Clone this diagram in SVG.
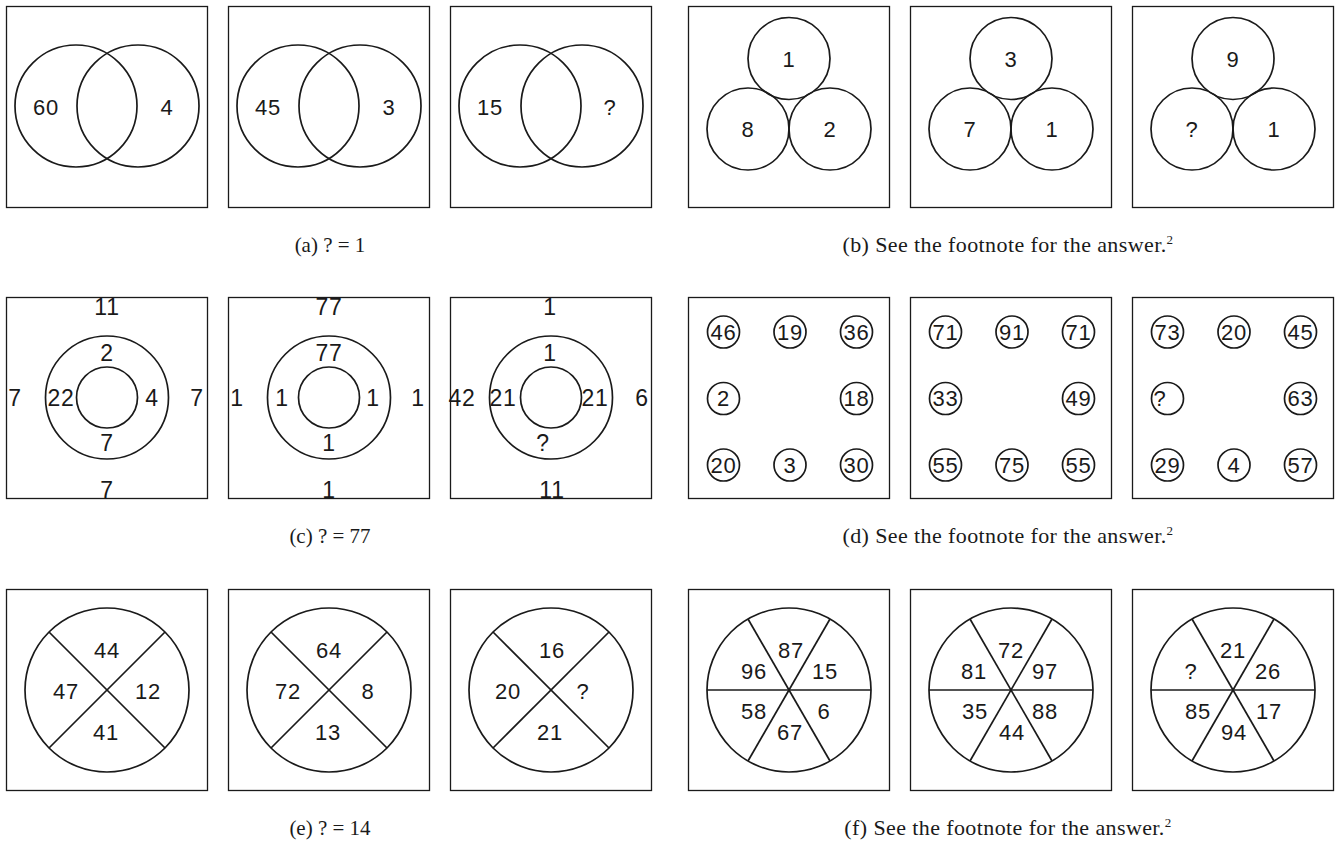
<svg xmlns="http://www.w3.org/2000/svg" width="1336" height="844" viewBox="0 0 1336 844">
<style>
.box{fill:#fff;stroke:#1a1a1a;stroke-width:1.3}
.c{fill:none;stroke:#1a1a1a;stroke-width:1.7}
.l{stroke:#1a1a1a;stroke-width:1.7}
.t{font-family:"Liberation Sans",Arial,sans-serif;font-size:22px;fill:#1a1a1a;text-anchor:middle;dominant-baseline:central;letter-spacing:0.8px}
.tc{font-size:23px}
.cap{font-family:"Liberation Serif","Times New Roman",serif;font-size:21px;fill:#1a1a1a;text-anchor:middle}
.capl{font-size:22px;letter-spacing:0.4px}
.sup{font-size:13px}
</style>
<rect width="1336" height="844" fill="#fff"/>

<!-- (a) -->
<g id="a1">
<rect class="box" x="6.5" y="6.5" width="201" height="201"/>
<circle class="c" cx="76" cy="106" r="61"/><circle class="c" cx="138" cy="106" r="61"/>
<text class="t" x="46" y="107">60</text><text class="t" x="167" y="107">4</text>
</g>
<g id="a2">
<rect class="box" x="228.5" y="6.5" width="201" height="201"/>
<circle class="c" cx="298" cy="106" r="61"/><circle class="c" cx="360" cy="106" r="61"/>
<text class="t" x="268" y="107">45</text><text class="t" x="389" y="107">3</text>
</g>
<g id="a3">
<rect class="box" x="450.5" y="6.5" width="201" height="201"/>
<circle class="c" cx="520" cy="106" r="61"/><circle class="c" cx="582" cy="106" r="61"/>
<text class="t" x="490" y="107">15</text><text class="t" x="610" y="107">?</text>
</g>
<text id="cap-a" class="cap" x="330" y="252">(a) ? = 1</text>

<!-- (b) -->
<g id="b1">
<rect class="box" x="688.5" y="6.5" width="201" height="201"/>
<circle class="c" cx="789" cy="58.5" r="41"/><circle class="c" cx="748" cy="129" r="41"/><circle class="c" cx="830" cy="129" r="41"/>
<text class="t" x="789" y="59">1</text><text class="t" x="748" y="129">8</text><text class="t" x="830" y="129">2</text>
</g>
<g id="b2">
<rect class="box" x="910.5" y="6.5" width="201" height="201"/>
<circle class="c" cx="1011" cy="58.5" r="41"/><circle class="c" cx="970" cy="129" r="41"/><circle class="c" cx="1052" cy="129" r="41"/>
<text class="t" x="1011" y="59">3</text><text class="t" x="970" y="129">7</text><text class="t" x="1052" y="129">1</text>
</g>
<g id="b3">
<rect class="box" x="1132.5" y="6.5" width="201" height="201"/>
<circle class="c" cx="1233" cy="58.5" r="41"/><circle class="c" cx="1192" cy="129" r="41"/><circle class="c" cx="1274" cy="129" r="41"/>
<text class="t" x="1233" y="59">9</text><text class="t" x="1192" y="129">?</text><text class="t" x="1274" y="129">1</text>
</g>
<text id="cap-b" class="cap capl" x="1008" y="252">(b) See the footnote for the answer.<tspan class="sup" dy="-8">2</tspan></text>

<!-- (c) -->
<g id="c1">
<rect class="box" x="6.5" y="297.5" width="201" height="201"/>
<circle class="c" cx="107" cy="397.5" r="61.5"/><circle class="c" cx="107" cy="397.5" r="30.5"/>
<text class="t tc" x="107" y="307">11</text><text class="t tc" x="107" y="353">2</text>
<text class="t tc" x="15" y="398">7</text><text class="t tc" x="61" y="398">22</text>
<text class="t tc" x="152" y="398">4</text><text class="t tc" x="197" y="398">7</text>
<text class="t tc" x="107" y="443">7</text><text class="t tc" x="107" y="490">7</text>
</g>
<g id="c2">
<rect class="box" x="228.5" y="297.5" width="201" height="201"/>
<circle class="c" cx="329" cy="397.5" r="61.5"/><circle class="c" cx="329" cy="397.5" r="30.5"/>
<text class="t tc" x="329" y="307">77</text><text class="t tc" x="329" y="353">77</text>
<text class="t tc" x="237" y="398">1</text><text class="t tc" x="282" y="398">1</text>
<text class="t tc" x="373" y="398">1</text><text class="t tc" x="418" y="398">1</text>
<text class="t tc" x="329" y="443">1</text><text class="t tc" x="329" y="490">1</text>
</g>
<g id="c3">
<rect class="box" x="450.5" y="297.5" width="201" height="201"/>
<circle class="c" cx="551" cy="397.5" r="61.5"/><circle class="c" cx="551" cy="397.5" r="30.5"/>
<text class="t tc" x="550" y="307">1</text><text class="t tc" x="550" y="353">1</text>
<text class="t tc" x="462" y="398">42</text><text class="t tc" x="503" y="398">21</text>
<text class="t tc" x="595" y="398">21</text><text class="t tc" x="642" y="398">6</text>
<text class="t tc" x="543" y="443">?</text><text class="t tc" x="552" y="490">11</text>
</g>
<text id="cap-c" class="cap" x="330" y="543">(c) ? = 77</text>

<!-- (d) -->
<g id="d1">
<rect class="box" x="688.5" y="297.5" width="201" height="201"/>
<circle class="c" cx="723.5" cy="332" r="16"/><circle class="c" cx="790" cy="332" r="16"/><circle class="c" cx="856.5" cy="332" r="16"/>
<circle class="c" cx="723.5" cy="398.5" r="16"/><circle class="c" cx="856.5" cy="398.5" r="16"/>
<circle class="c" cx="723.5" cy="465" r="16"/><circle class="c" cx="790" cy="465" r="16"/><circle class="c" cx="856.5" cy="465" r="16"/>
<text class="t" x="723.5" y="332">46</text><text class="t" x="790" y="332">19</text><text class="t" x="856.5" y="332">36</text>
<text class="t" x="723.5" y="398.5">2</text><text class="t" x="856.5" y="398.5">18</text>
<text class="t" x="723.5" y="465">20</text><text class="t" x="790" y="465">3</text><text class="t" x="856.5" y="465">30</text>
</g>
<g id="d2">
<rect class="box" x="910.5" y="297.5" width="201" height="201"/>
<circle class="c" cx="945.5" cy="332" r="16"/><circle class="c" cx="1012" cy="332" r="16"/><circle class="c" cx="1078.5" cy="332" r="16"/>
<circle class="c" cx="945.5" cy="398.5" r="16"/><circle class="c" cx="1078.5" cy="398.5" r="16"/>
<circle class="c" cx="945.5" cy="465" r="16"/><circle class="c" cx="1012" cy="465" r="16"/><circle class="c" cx="1078.5" cy="465" r="16"/>
<text class="t" x="945.5" y="332">71</text><text class="t" x="1012" y="332">91</text><text class="t" x="1078.5" y="332">71</text>
<text class="t" x="945.5" y="398.5">33</text><text class="t" x="1078.5" y="398.5">49</text>
<text class="t" x="945.5" y="465">55</text><text class="t" x="1012" y="465">75</text><text class="t" x="1078.5" y="465">55</text>
</g>
<g id="d3">
<rect class="box" x="1132.5" y="297.5" width="201" height="201"/>
<circle class="c" cx="1167.5" cy="332" r="16"/><circle class="c" cx="1234" cy="332" r="16"/><circle class="c" cx="1300.5" cy="332" r="16"/>
<circle class="c" cx="1167.5" cy="398.5" r="16"/><circle class="c" cx="1300.5" cy="398.5" r="16"/>
<circle class="c" cx="1167.5" cy="465" r="16"/><circle class="c" cx="1234" cy="465" r="16"/><circle class="c" cx="1300.5" cy="465" r="16"/>
<text class="t" x="1167.5" y="332">73</text><text class="t" x="1234" y="332">20</text><text class="t" x="1300.5" y="332">45</text>
<text class="t" x="1160" y="398.5">?</text><text class="t" x="1300.5" y="398.5">63</text>
<text class="t" x="1167.5" y="465">29</text><text class="t" x="1234" y="465">4</text><text class="t" x="1300.5" y="465">57</text>
</g>
<text id="cap-d" class="cap capl" x="1008" y="543">(d) See the footnote for the answer.<tspan class="sup" dy="-8">2</tspan></text>

<!-- (e) -->
<g id="e1">
<rect class="box" x="6.5" y="589.5" width="201" height="201"/>
<circle class="c" cx="107" cy="690" r="82"/>
<line class="l" x1="49" y1="632" x2="165" y2="748"/><line class="l" x1="49" y1="748" x2="165" y2="632"/>
<text class="t" x="107" y="650">44</text><text class="t" x="66" y="691">47</text>
<text class="t" x="148" y="691">12</text><text class="t" x="106" y="732">41</text>
</g>
<g id="e2">
<rect class="box" x="228.5" y="589.5" width="201" height="201"/>
<circle class="c" cx="329" cy="690" r="82"/>
<line class="l" x1="271" y1="632" x2="387" y2="748"/><line class="l" x1="271" y1="748" x2="387" y2="632"/>
<text class="t" x="329" y="650">64</text><text class="t" x="288" y="691">72</text>
<text class="t" x="368" y="691">8</text><text class="t" x="328" y="732">13</text>
</g>
<g id="e3">
<rect class="box" x="450.5" y="589.5" width="201" height="201"/>
<circle class="c" cx="551" cy="690" r="82"/>
<line class="l" x1="493" y1="632" x2="609" y2="748"/><line class="l" x1="493" y1="748" x2="609" y2="632"/>
<text class="t" x="552" y="650">16</text><text class="t" x="508" y="691">20</text>
<text class="t" x="583" y="691">?</text><text class="t" x="550" y="732">21</text>
</g>
<text id="cap-e" class="cap" x="330" y="835">(e) ? = 14</text>

<!-- (f) -->
<g id="f1">
<rect class="box" x="688.5" y="589.5" width="201" height="201"/>
<circle class="c" cx="789" cy="690" r="82"/>
<line class="l" x1="707" y1="690" x2="871" y2="690"/><line class="l" x1="748" y1="619" x2="830" y2="761"/><line class="l" x1="830" y1="619" x2="748" y2="761"/>
<text class="t" x="791" y="650">87</text><text class="t" x="754" y="671">96</text><text class="t" x="825" y="671">15</text>
<text class="t" x="754" y="711">58</text><text class="t" x="824" y="711">6</text><text class="t" x="790" y="732">67</text>
</g>
<g id="f2">
<rect class="box" x="910.5" y="589.5" width="201" height="201"/>
<circle class="c" cx="1011" cy="690" r="82"/>
<line class="l" x1="929" y1="690" x2="1093" y2="690"/><line class="l" x1="970" y1="619" x2="1052" y2="761"/><line class="l" x1="1052" y1="619" x2="970" y2="761"/>
<text class="t" x="1011" y="650">72</text><text class="t" x="974" y="671">81</text><text class="t" x="1045" y="671">97</text>
<text class="t" x="975" y="711">35</text><text class="t" x="1045" y="711">88</text><text class="t" x="1012" y="732">44</text>
</g>
<g id="f3">
<rect class="box" x="1132.5" y="589.5" width="201" height="201"/>
<circle class="c" cx="1233" cy="690" r="82"/>
<line class="l" x1="1151" y1="690" x2="1315" y2="690"/><line class="l" x1="1192" y1="619" x2="1274" y2="761"/><line class="l" x1="1274" y1="619" x2="1192" y2="761"/>
<text class="t" x="1233" y="650">21</text><text class="t" x="1191" y="671">?</text><text class="t" x="1268" y="671">26</text>
<text class="t" x="1198" y="711">85</text><text class="t" x="1269" y="711">17</text><text class="t" x="1234" y="732">94</text>
</g>
<text id="cap-f" class="cap capl" x="1008" y="835">(f) See the footnote for the answer.<tspan class="sup" dy="-8">2</tspan></text>
</svg>
